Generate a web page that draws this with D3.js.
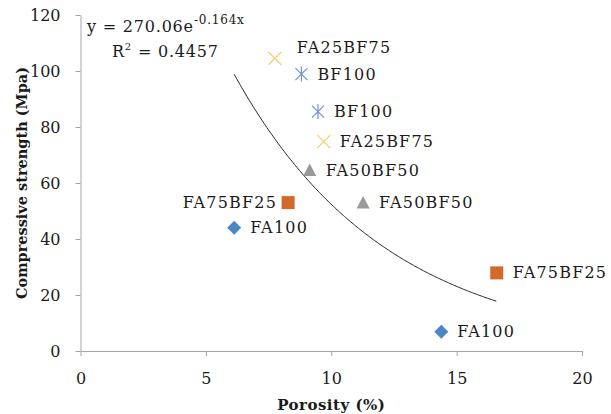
<!DOCTYPE html>
<html>
<head>
<meta charset="utf-8">
<script src="https://cdn.jsdelivr.net/npm/d3@7"></script>
<style>
  body { margin: 0; background: #fff; }
  svg text { font-family: "DejaVu Serif", "DejaVu Sans", sans-serif; fill: #1a1a1a; }
</style>
</head>
<body>
<div id="chart"></div>
<script>
// series, one entry per mix
var seriesNames = ["FA100", "FA75BF25", "FA50BF50", "FA25BF75", "BF100"];
var porosity = [[6.13, 14.39], [8.28, 16.6], [9.14, 11.27], [7.75, 9.70], [8.81, 9.47]];
var strength = [[44.0, 6.9], [53.0, 27.9], [64.6, 53.0], [104.5, 74.8], [98.9, 85.5]];
var seriesColors = ["#4a86c4", "#d46a2a", "#999999", "#f3cb63", "#7392d6"];

var xTicks = [0, 5, 10, 15, 20];
var yTicks = [0, 20, 40, 60, 80, 100, 120];

// exponential trendline  y = a * e^(b x)
var trendA = 270.06, trendB = -0.164, trendR2 = 0.4457;

var W = 611, H = 414;
var FONT = "'DejaVu Serif', 'DejaVu Sans', sans-serif";
var svg = d3.select("#chart").append("svg").attr("width", W).attr("height", H);

var x = d3.scaleLinear().domain([0, 20]).range([80.5, 582]);
var y = d3.scaleLinear().domain([0, 120]).range([351, 15]);

// axes
var xAxis = svg.append("g").attr("transform", "translate(0," + y(0) + ")")
  .call(d3.axisBottom(x).tickValues(xTicks).tickSize(5).tickSizeOuter(0).tickPadding(15));
var yAxis = svg.append("g").attr("transform", "translate(" + x(0) + ",0)")
  .call(d3.axisLeft(y).tickValues(yTicks).tickSize(5).tickSizeOuter(0).tickPadding(15));

[xAxis, yAxis].forEach(function(a) {
  a.attr("font-family", FONT);
  a.select(".domain").attr("stroke", "#a6a6a6");
  a.selectAll(".tick line").attr("stroke", "#a6a6a6");
  a.selectAll(".tick text").style("font-size", "16px").attr("fill", "#1a1a1a");
});
xAxis.selectAll(".tick text").attr("dy", "0.8em");

// axis titles
svg.append("text").attr("x", (x(0) + x(20)) / 2).attr("y", 410)
  .attr("text-anchor", "middle").style("font-size", "15px").style("font-weight", "bold")
  .style("letter-spacing", "0.5px")
  .text("Porosity (%)");
svg.append("text").attr("transform", "translate(27," + (y(0) + y(120)) / 2 + ") rotate(-90)")
  .attr("text-anchor", "middle").style("font-size", "14.5px").style("font-weight", "bold")
  .text("Compressive strength (Mpa)");

// flatten for drawing
var points = [];
seriesNames.forEach(function(name, s) {
  porosity[s].forEach(function(p, i) {
    points.push({ s: s, i: i, name: name, px: p, st: strength[s][i] });
  });
});

// trendline from min to max porosity
var allX = points.map(function(d) { return d.px; });
var trendPts = d3.range(d3.min(allX), d3.max(allX) + 0.001, 0.05).map(function(v) {
  return [v, trendA * Math.exp(trendB * v)];
});
svg.append("path")
  .attr("d", d3.line().x(function(d) { return x(d[0]); }).y(function(d) { return y(d[1]); })(trendPts))
  .attr("fill", "none").attr("stroke", "#222").attr("stroke-width", 1);

// marker shapes
function markerPath(s) {
  switch (s) {
    case 0: return "M0,-7L7,0L0,7L-7,0Z";
    case 1: return "M-6.5,-6.5H6.5V6.5H-6.5Z";
    case 2: return "M0,-6.5L6.5,6L-6.5,6Z";
    case 3: return "M-6.5,-6.5L6.5,6.5M6.5,-6.5L-6.5,6.5";
    default: return "M-6,-6L6,6M6,-6L-6,6M0,-7.5V7.5";
  }
}

var marks = svg.selectAll("g.pt").data(points).enter().append("g")
  .attr("class", "pt")
  .attr("transform", function(d) { return "translate(" + x(d.px) + "," + y(d.st) + ")"; });

marks.append("path")
  .attr("d", function(d) { return markerPath(d.s); })
  .attr("fill", function(d) { return d.s < 3 ? seriesColors[d.s] : "none"; })
  .attr("stroke", function(d) { return d.s < 3 ? "none" : seriesColors[d.s]; })
  .attr("stroke-width", 1.2);

// data labels
marks.append("text")
  .style("font-size", "16px")
  .style("letter-spacing", "1.2px")
  .attr("dy", "0.35em")
  .attr("x", function(d) {
    if (d.s == 1 && d.i == 0) return -11;
    if (d.s == 3 && d.i == 0) return 22;
    return 16;
  })
  .attr("y", function(d) { return (d.s == 3 && d.i == 0) ? -11 : 0; })
  .attr("text-anchor", function(d) { return (d.s == 1 && d.i == 0) ? "end" : "start"; })
  .text(function(d) { return d.name; });

// equation
var eq = svg.append("text").attr("x", 87).attr("y", 32).style("font-size", "16px")
  .style("letter-spacing", "0.8px");
eq.append("tspan").text("y = " + trendA.toFixed(2) + "e");
eq.append("tspan").attr("dy", -8).style("font-size", "12px").text(trendB + "x");
var r2 = svg.append("text").attr("x", 112).attr("y", 57).style("font-size", "16px")
  .style("letter-spacing", "0.8px");
r2.append("tspan").text("R");
r2.append("tspan").attr("dy", -7).style("font-size", "10px").text("2");
r2.append("tspan").attr("dy", 7).text(" = " + trendR2);
</script>
</body>
</html>
